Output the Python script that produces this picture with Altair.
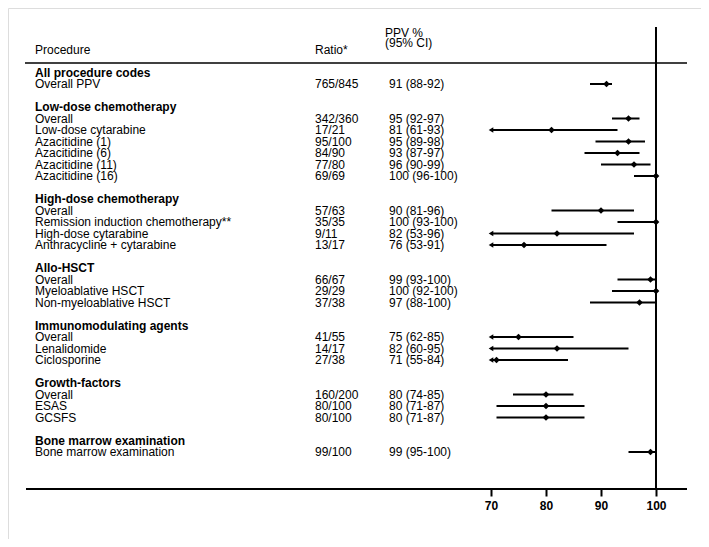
import altair as alt
import pandas as pd

# ---------------- data ----------------
group_titles = [
    "All procedure codes",
    "Low-dose chemotherapy",
    "High-dose chemotherapy",
    "Allo-HSCT",
    "Immunomodulating agents",
    "Growth-factors",
    "Bone marrow examination",
]
item_labels = [
    ["Overall PPV"],
    ["Overall", "Low-dose cytarabine", "Azacitidine (1)", "Azacitidine (6)",
     "Azacitidine (11)", "Azacitidine (16)"],
    ["Overall", "Remission induction chemotherapy**", "High-dose cytarabine",
     "Anthracycline + cytarabine"],
    ["Overall", "Myeloablative HSCT", "Non-myeloablative HSCT"],
    ["Overall", "Lenalidomide", "Ciclosporine"],
    ["Overall", "ESAS", "GCSFS"],
    ["Bone marrow examination"],
]
ratios = [
    ["765/845"],
    ["342/360", "17/21", "95/100", "84/90", "77/80", "69/69"],
    ["57/63", "35/35", "9/11", "13/17"],
    ["66/67", "29/29", "37/38"],
    ["41/55", "14/17", "27/38"],
    ["160/200", "80/100", "80/100"],
    ["99/100"],
]
ppv = [
    [91],
    [95, 81, 95, 93, 96, 100],
    [90, 100, 82, 76],
    [99, 100, 97],
    [75, 82, 71],
    [80, 80, 80],
    [99],
]
ci_low = [
    [88],
    [92, 61, 89, 87, 90, 96],
    [81, 93, 53, 53],
    [93, 92, 88],
    [62, 60, 55],
    [74, 71, 71],
    [95],
]
ci_high = [
    [92],
    [97, 93, 98, 97, 99, 100],
    [96, 100, 96, 91],
    [100, 100, 100],
    [85, 95, 84],
    [85, 87, 87],
    [100],
]
tick_values = [70, 80, 90, 100]
axis_min = 70

# ---------------- build tables ----------------
head_rows, item_rows = [], []
r = 0
for g, title in enumerate(group_titles):
    head_rows.append({"row": r, "label": title})
    r += 1
    for i, lab in enumerate(item_labels[g]):
        lo = ci_low[g][i]
        item_rows.append({
            "row": r,
            "label": lab,
            "ratio": ratios[g][i],
            "ppvtxt": f"{ppv[g][i]} ({lo}-{ci_high[g][i]})",
            "ppv": ppv[g][i],
            "lo": max(lo, axis_min),
            "hi": ci_high[g][i],
            "trunc": lo < axis_min,
        })
        r += 1
    r += 1  # blank row between groups

heads = pd.DataFrame(head_rows)
items = pd.DataFrame(item_rows)
truncs = items[items["trunc"]]

W, H = 693, 531
FONT = "Liberation Sans"

xscale = alt.Scale(domain=[-17.818, 108.182], range=[0, W], nice=False, zero=False)
yscale = alt.Scale(domain=[-5.6087, 40.5652], range=[0, H], nice=False, zero=False)
xaxis = alt.Axis(values=tick_values, title=None, domain=False, grid=False,
                 offset=-50, tickSize=7, tickWidth=2, tickColor="black",
                 labelFont=FONT, labelFontSize=12, labelFontWeight="bold",
                 labelColor="black", labelPadding=4, format="d")


def X(field):
    return alt.X(field, type="quantitative", scale=xscale, axis=xaxis)


y_enc = alt.Y("row:Q", scale=yscale, axis=None)

base = alt.Chart(items)

ci = base.mark_rule(color="black", strokeWidth=2).encode(
    x=X("lo"), x2="hi:Q", y=y_enc)

pts = base.mark_point(shape="diamond", filled=True, color="black", size=45, opacity=1).encode(
    x=X("ppv"), y=y_enc)

arrows = alt.Chart(truncs).mark_point(shape="triangle-left", filled=True, color="black",
                                       size=28, opacity=1).encode(
    x=X("lo"), y=y_enc)

txt_label = base.mark_text(align="left", baseline="middle", font=FONT, fontSize=12,
                           color="black").encode(x=alt.value(27), y=y_enc, text="label:N")
txt_ratio = base.mark_text(align="left", baseline="middle", font=FONT, fontSize=12,
                           color="black").encode(x=alt.value(307), y=y_enc, text="ratio:N")
txt_ppv = base.mark_text(align="left", baseline="middle", font=FONT, fontSize=12,
                         color="black").encode(x=alt.value(381), y=y_enc, text="ppvtxt:N")
txt_head = alt.Chart(heads).mark_text(align="left", baseline="middle", font=FONT, fontSize=12,
                                      fontWeight="bold", color="black").encode(
    x=alt.value(27), y=y_enc, text="label:N")

col_heads = pd.DataFrame({
    "t": ["Procedure", "Ratio*", "PPV %", "(95% CI)"],
    "px": [27, 307, 377, 377],
    "py": [42, 42, 25, 35],
})
txt_cols = alt.Chart(col_heads).mark_text(align="left", baseline="middle", font=FONT,
                                          fontSize=12, color="black").encode(
    x=alt.X("px:Q", scale=None), y=alt.Y("py:Q", scale=None), text="t:N")

ref = alt.Chart(pd.DataFrame({"v": [100]})).mark_rule(color="black", strokeWidth=2).encode(
    x=X("v"), y=alt.value(19), y2=alt.value(481))

hline = alt.Chart(pd.DataFrame({"a": [0]})).mark_rule(color="black", strokeWidth=1.5).encode(
    x=alt.value(17), x2=alt.value(679), y=alt.value(55))
axline = alt.Chart(pd.DataFrame({"a": [0]})).mark_rule(color="black", strokeWidth=2).encode(
    x=alt.value(18), x2=alt.value(679), y=alt.value(481))

chart = alt.layer(
    hline, axline, ref, ci, arrows, pts,
    txt_head, txt_label, txt_ratio, txt_ppv, txt_cols,
).properties(
    width=W, height=H, padding=0, autosize=alt.AutoSizeParams(type="none"),
).configure_view(
    stroke="#dedede", strokeWidth=2,
).configure(background="white")

chart.save("out.html", embed_options={"renderer": "svg", "actions": False})
